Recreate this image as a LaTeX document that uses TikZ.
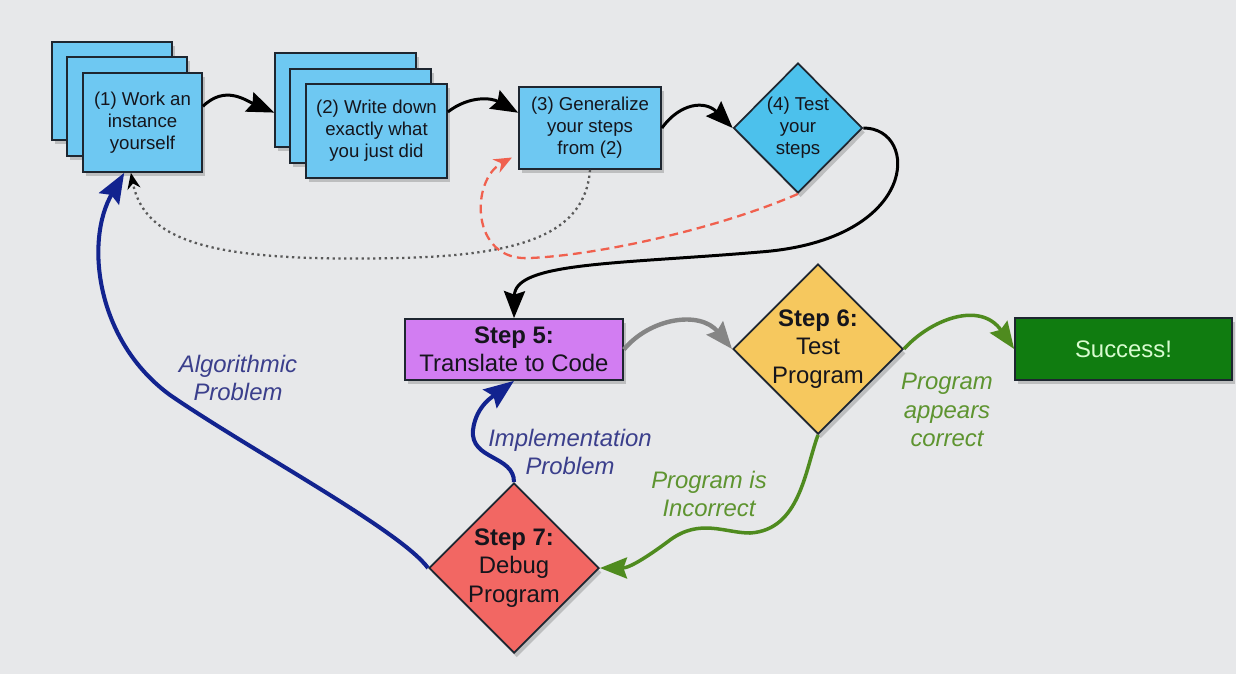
\documentclass[tikz,border=0pt]{standalone}
\usepackage{fontspec}
\setmainfont{Liberation Sans}
\usepackage{tikz}
\usetikzlibrary{arrows.meta,shapes.geometric,shadows}
\definecolor{bg}{HTML}{E7E8EA}
\definecolor{edge}{HTML}{1E2630}
\definecolor{ink}{HTML}{15151C}
\definecolor{cardblue}{HTML}{6EC8F2}
\definecolor{testblue}{HTML}{4CC1EC}
\definecolor{violetbox}{HTML}{D27DF2}
\definecolor{amber}{HTML}{F6C85E}
\definecolor{leaf}{HTML}{107C10}
\definecolor{mint}{HTML}{D8FCCF}
\definecolor{coral}{HTML}{F26763}
\definecolor{arrowblue}{HTML}{12238F}
\definecolor{navytext}{HTML}{3B3F8C}
\definecolor{arrowgreen}{HTML}{4F8B1F}
\definecolor{olivetext}{HTML}{5E9430}
\definecolor{arrowgray}{HTML}{858585}
\definecolor{redline}{HTML}{F0604E}

\begin{document}
\begin{tikzpicture}[x=0.02cm,y=-0.02cm,>={Stealth[length=5.4mm,width=4.2mm,inset=0.7mm]},
	card/.style={draw=edge,line width=1pt,fill=cardblue,align=center,inner sep=0pt,text=ink,font=\fontsize{10.6}{12.5}\selectfont,drop shadow={opacity=.4,shadow xshift=1.5pt,shadow yshift=-2.5pt}},
	big/.style={draw=edge,line width=1pt,align=center,inner sep=0pt,text=ink,font=\fontsize{13.6}{16.2}\selectfont,drop shadow={opacity=.4,shadow xshift=1.5pt,shadow yshift=-2.5pt}},
	gem/.style={shape=diamond,aspect=1},
	note/.style={align=center,font=\itshape\fontsize{13.6}{16.2}\selectfont},
	flow/.style={->,line width=1.7pt}]
			\useasboundingbox[fill=bg] (0,0) rectangle (1236,674);
			\node[card,minimum width=2.4cm,minimum height=1.96cm] (workc) at (112,91) {};
			\node[card,minimum width=2.4cm,minimum height=1.98cm] (workb) at (127,106.5) {};
			\node[card,minimum width=2.38cm,minimum height=1.98cm] (work) at (142.5,122.5) {(1) Work an\\instance\\yourself};
			\node[card,minimum width=2.82cm,minimum height=1.88cm] (writec) at (345.5,100) {};
			\node[card,minimum width=2.82cm,minimum height=1.88cm] (writeb) at (360.5,116) {};
			\node[card,minimum width=2.82cm,minimum height=1.88cm] (write) at (376.5,131) {(2) Write down\\exactly what\\you just did};
			\node[card,minimum width=2.84cm,minimum height=1.64cm] (gen) at (590,128) {(3) Generalize\\your steps\\from (2)};
			\node[card,gem,fill=testblue,minimum width=2.58cm,minimum height=2.6cm] (tst) at (798,128) {(4) Test\\your\\steps};
			\node[big,fill=violetbox,minimum width=4.36cm,minimum height=1.22cm] (code) at (514,349.5) {\textbf{Step 5:}\\Translate to Code};
			\node[big,gem,fill=amber,minimum width=3.38cm,minimum height=3.34cm] (prog) at (818,349) {\textbf{Step 6:}\\Test\\Program};
			\node[big,fill=leaf,text=mint,minimum width=4.34cm,minimum height=1.24cm] (done) at (1123.5,349) {Success!};
			\node[big,gem,fill=coral,minimum width=3.38cm,minimum height=3.34cm] (dbg) at (514,568) {\textbf{Step 7:}\\Debug\\Program};
			\node[note,text=navytext] (algo) at (238,378) {Algorithmic\\Problem};
			\node[note,text=navytext] (impl) at (570,452) {Implementation\\Problem};
			\node[note,text=olivetext] (bad) at (709,494) {Program is\\Incorrect};
			\node[note,text=olivetext] (good) at (947,410) {Program\\appears\\correct};
			\draw[flow] (work.15) .. controls (225,85) and (245,100) .. (writec.190);
			\draw[flow] (write.15) .. controls (470,95) and (492,98) .. (gen.168);
			\draw[flow] (gen.east) .. controls (680,103) and (705,100) .. (tst.west);
			\draw[flow] (tst.east) .. controls (920,128) and (920,240) .. (760,252) .. controls (620,264) and (515,262) .. (code.north);
			\draw[gray!70!black,line width=1.3pt,dotted,-{Stealth[length=3.2mm,width=2.6mm,black]}] (gen.south) .. controls (585,235) and (520,255) .. (400,258) .. controls (220,262) and (145,245) .. (work.257);
			\draw[redline,line width=1.3pt,dash pattern=on 5pt off 3pt,shorten >=4pt,-{Stealth[length=3.6mm,width=3mm]}] (tst.south) .. controls (720,228) and (600,255) .. (530,258) .. controls (470,262) and (470,180) .. (gen.200);
			\draw[flow,color=arrowgray,line width=2.5pt] (code.east) .. controls (650,318) and (700,310) .. (prog.west);
			\draw[flow,color=arrowgreen,line width=2pt] (prog.east) .. controls (930,320) and (980,300) .. (done.west);
			\draw[flow,color=arrowgreen,line width=2pt] (prog.south) .. controls (805,470) and (800,530) .. (750,533) .. controls (725,533) and (700,518) .. (670,540) .. controls (650,555) and (630,568) .. (dbg.east);
			\draw[color=arrowblue,line width=2.3pt,-{Stealth[length=6mm,width=4.6mm,inset=0.9mm]}] (dbg.north) .. controls (514,455) and (470,460) .. (473,430) .. controls (476,405) and (495,395) .. (code.south);
			\draw[color=arrowblue,line width=2.3pt,-{Stealth[length=6mm,width=4.6mm,inset=0.9mm]}] (dbg.west) .. controls (400,530) and (250,450) .. (170,395) .. controls (95,340) and (85,240) .. (work.250);
		\end{tikzpicture}
\end{document}
